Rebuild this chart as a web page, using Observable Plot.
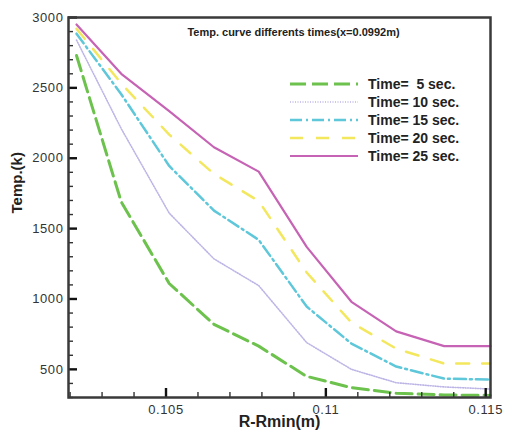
<!DOCTYPE html>
<html>
<head>
<meta charset="utf-8">
<script src="https://cdn.jsdelivr.net/npm/d3@7"></script>
<script src="https://cdn.jsdelivr.net/npm/@observablehq/plot@0.6"></script>
<style>
  html, body { margin: 0; padding: 0; background: #fff; }
  #wrap { position: relative; width: 505px; height: 434px; font-family: "Liberation Sans", Arial, sans-serif; }
  #legend { position: absolute; left: 0; top: 0; pointer-events: none; }
</style>
</head>
<body>
<div id="wrap"></div>
<script>
// ---- data ----
const rPos = [0.1022, 0.1036, 0.1051, 0.1065, 0.1079, 0.1094, 0.1108, 0.1122, 0.1137, 0.11515];
const t5  = [2730, 1690, 1110, 820, 665, 450, 370, 330, 318, 315];
const t10 = [2840, 2210, 1610, 1285, 1095, 690, 500, 405, 375, 360];
const t15 = [2885, 2455, 1945, 1628, 1420, 946, 683, 520, 434, 427];
const t20 = [2920, 2531, 2168, 1888, 1696, 1188, 832, 647, 541, 541];
const t25 = [2950, 2600, 2335, 2078, 1905, 1370, 980, 770, 665, 665];
const seriesNames = ["Time=  5 sec.", "Time= 10 sec.", "Time= 15 sec.", "Time= 20 sec.", "Time= 25 sec."];
const seriesValues = [t5, t10, t15, t20, t25];
const xTickLabels = [0.105, 0.11, 0.115];
const yTickLabels = [500, 1000, 1500, 2000, 2500, 3000];
const xDomain = [0.10195, 0.11515];
const yDomain = [300, 3000];
const titleText = "Temp. curve differents times(x=0.0992m)";
const xLabel = "R-Rmin(m)";
const yLabel = "Temp.(k)";

// ---- layout ----
const W = 505, H = 434, mL = 68, mR = 15, mT = 17, mB = 37;
const innerW = W - mL - mR, innerH = H - mT - mB;

// ---- styles ----
const styles = [
  {stroke: "#6cc24c", strokeWidth: 3, dash: "16,6"},
  {stroke: "#bdb5e6", strokeWidth: 1.6, dash: "1,1.5"},
  {stroke: "#5ec7d9", strokeWidth: 2.5, dash: "12,4,2,4"},
  {stroke: "#f3e75e", strokeWidth: 2.5, dash: "13,13"},
  {stroke: "#c663b4", strokeWidth: 2.2, dash: null}
];

const table = seriesValues.map((vals, s) => rPos.map((r, i) => ({r, T: vals[i], series: seriesNames[s]})));

const yMinor = d3.range(300, 3001, 100).filter(v => v % 500 !== 0);
const xMinor = d3.range(102, 116).map(v => v / 1000).filter(v => !xTickLabels.some(m => Math.abs(m - v) < 1e-9));

// tick lengths converted from pixels to data units
const xPerPx = (xDomain[1] - xDomain[0]) / innerW;
const yPerPx = (yDomain[1] - yDomain[0]) / innerH;

const fontFam = "Liberation Sans, Arial, sans-serif";

const chart = Plot.plot({
  width: W,
  height: H,
  marginLeft: mL,
  marginRight: mR,
  marginTop: mT,
  marginBottom: mB,
  style: {background: "#fff", fontFamily: fontFam},
  x: {domain: xDomain},
  y: {domain: yDomain},
  marks: [
    ...table.map((rows, s) => Plot.line(rows, {
      x: "r", y: "T",
      stroke: styles[s].stroke,
      strokeWidth: styles[s].strokeWidth,
      strokeDasharray: styles[s].dash,
      strokeLinejoin: "round"
    })),
    // inward ticks
    Plot.ruleY(yTickLabels, {y: d => d, x1: xDomain[0], x2: xDomain[0] + 9 * xPerPx, stroke: "#111", strokeWidth: 2.4}),
    Plot.ruleY(yMinor, {y: d => d, x1: xDomain[0], x2: xDomain[0] + 5 * xPerPx, stroke: "#333", strokeWidth: 1.4}),
    Plot.ruleX(xTickLabels, {x: d => d, y1: yDomain[0], y2: yDomain[0] + 9 * yPerPx, stroke: "#111", strokeWidth: 2.4}),
    Plot.ruleX(xMinor, {x: d => d, y1: yDomain[0], y2: yDomain[0] + 5 * yPerPx, stroke: "#333", strokeWidth: 1.4}),
    Plot.axisY({ticks: yTickLabels, tickSize: 0, tickPadding: 5, label: null, fontSize: 13, fill: "#333", tickFormat: d => String(d)}),
    Plot.axisX({ticks: xTickLabels, tickSize: 0, tickPadding: 7, label: null, fontSize: 13, fill: "#333", tickFormat: d => String(d)}),
    Plot.frame({stroke: "#3a3a3a", strokeWidth: 2.5}),
    Plot.text([titleText], {text: d => d, frameAnchor: "top", dx: 14, dy: 11, fontSize: 11, fontWeight: "bold", fill: "#222"}),
    Plot.text([xLabel], {text: d => d, frameAnchor: "bottom", dy: 29, fontSize: 16, fontWeight: "bold", fill: "#222"}),
    Plot.text([yLabel], {text: d => d, frameAnchor: "left", dx: -51, dy: 6, rotate: -90, fontSize: 15, fontWeight: "bold", fill: "#222"})
  ]
});

chart.querySelectorAll("[aria-label$='tick label'] text").forEach(t => t.setAttribute("letter-spacing", "0.6"));

const wrap = document.getElementById("wrap");
wrap.appendChild(chart);

// legend overlay
const ns = "http://www.w3.org/2000/svg";
const leg = document.createElementNS(ns, "svg");
leg.setAttribute("id", "legend");
leg.setAttribute("width", W);
leg.setAttribute("height", H);
seriesNames.forEach((name, i) => {
  const cy = 84 + i * 18;
  const ln = document.createElementNS(ns, "line");
  ln.setAttribute("x1", 290); ln.setAttribute("x2", 358);
  ln.setAttribute("y1", cy); ln.setAttribute("y2", cy);
  ln.setAttribute("stroke", styles[i].stroke);
  ln.setAttribute("stroke-width", styles[i].strokeWidth);
  if (styles[i].dash) ln.setAttribute("stroke-dasharray", styles[i].dash);
  leg.appendChild(ln);
  const tx = document.createElementNS(ns, "text");
  tx.setAttribute("x", 368); tx.setAttribute("y", cy + 5);
  tx.setAttribute("font-size", 14);
  tx.setAttribute("font-weight", "bold");
  tx.setAttribute("font-family", fontFam);
  tx.setAttribute("fill", "#222");
  tx.style.whiteSpace = "pre";
  tx.textContent = name;
  leg.appendChild(tx);
});
wrap.appendChild(leg);
</script>
</body>
</html>
